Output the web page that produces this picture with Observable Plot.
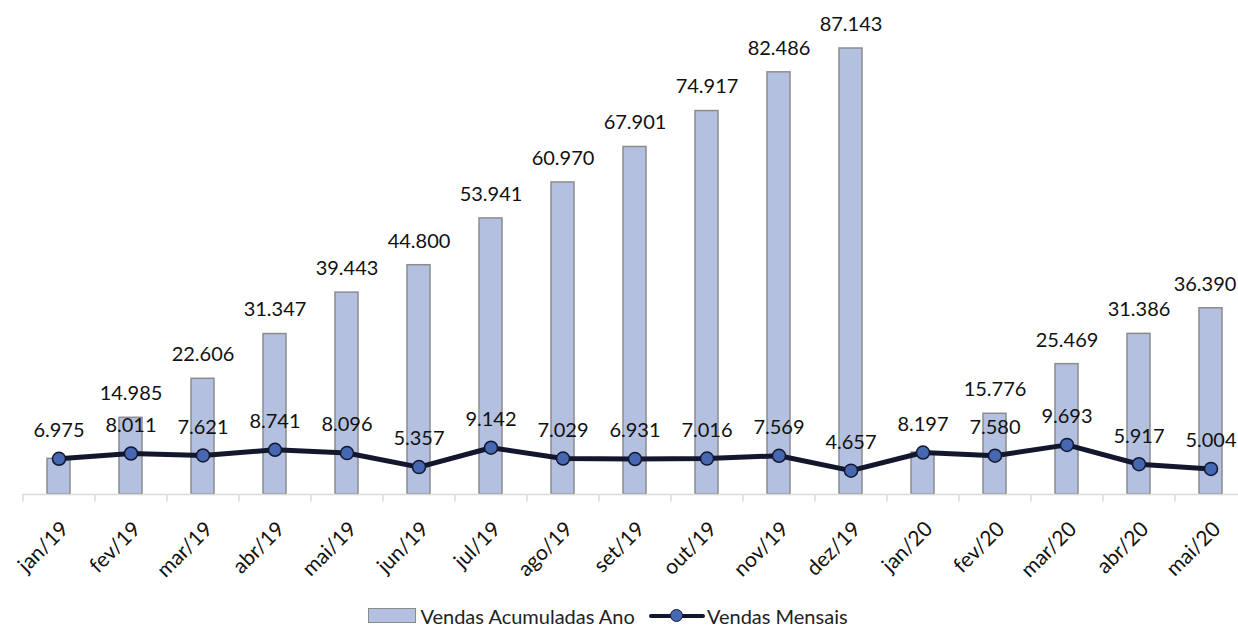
<!DOCTYPE html>
<html>
<head>
<meta charset="utf-8">
<script src="https://cdn.jsdelivr.net/npm/d3@7"></script>
<script src="https://cdn.jsdelivr.net/npm/@observablehq/plot@0.6"></script>
<style>
  body { margin: 0; background: #fff; font-family: Lato, "Open Sans", sans-serif; }
  #chart svg { display: block; }
  .legend { display: flex; justify-content: center; align-items: center; height: 27px; font-size: 20px; color: #222; margin-right: 22px; }
  .sw-bar { width: 46px; height: 13px; background: #b4c0e0; border: 1.5px solid #8c8c8c; margin-right: 4px; }
  .sw-line { position: relative; width: 56px; height: 14px; margin-left: 14px; margin-right: 2px; }
  .sw-line .ln { position: absolute; left: 0; right: 0; top: 5px; height: 4px; background: #12172e; border-radius: 2px; }
  .sw-line .dt { position: absolute; left: 21px; top: 0; width: 11px; height: 11px; border-radius: 50%; background: #4668b3; border: 1.5px solid #12172e; }
</style>
</head>
<body>
<div id="chart"></div>
<div class="legend">
  <div class="sw-bar"></div><span>Vendas Acumuladas Ano</span>
  <div class="sw-line"><div class="ln"></div><div class="dt"></div></div><span>Vendas Mensais</span>
</div>
<script>
const months = ["jan/19","fev/19","mar/19","abr/19","mai/19","jun/19","jul/19","ago/19","set/19","out/19","nov/19","dez/19","jan/20","fev/20","mar/20","abr/20","mai/20"];
const acumuladas = [6975, 14985, 22606, 31347, 39443, 44800, 53941, 60970, 67901, 74917, 82486, 87143, 8197, 15776, 25469, 31386, 36390];
const mensais = [6975, 8011, 7621, 8741, 8096, 5357, 9142, 7029, 6931, 7016, 7569, 4657, 8197, 7580, 9693, 5917, 5004];

const fmt = d3.formatLocale({decimal: ",", thousands: ".", grouping: [3], currency: ["R$", ""]}).format(",d");
const data = months.map((m, i) => ({m, acc: acumuladas[i], mes: mensais[i]}));
const last = data.length - 1;
const barLabels = data.filter((d, i) => d.acc !== d.mes && i !== last);

const W = 1238, H = 602;
const chart = Plot.plot({
  width: W,
  height: H,
  marginLeft: 22,
  marginRight: 0,
  style: {fontFamily: "Lato, 'Open Sans', sans-serif", background: "#fff"},
  x: {domain: months, range: [22, 1247], paddingInner: 0.68, paddingOuter: 0.34, axis: null},
  y: {domain: [0, 87143], range: [494, 48], axis: null},
  marks: [
    Plot.barY(data, {x: "m", y: "acc", fill: "#b4c0e0", stroke: "#8c8c8c", strokeWidth: 1.5}),
    Plot.ruleY([0], {stroke: "#d9d9d9", strokeWidth: 1.5}),
    Plot.ruleX(months, {x: d => d, dx: -36, y1: 0, y2: -1450, stroke: "#d9d9d9", strokeWidth: 1.5}),
    Plot.text(barLabels, {x: "m", y: "acc", text: d => fmt(d.acc), dy: -24, fontSize: 20, fill: "#111"}),
    Plot.text([data[last]], {x: "m", y: "acc", text: d => fmt(d.acc), dy: -24, dx: -6, fontSize: 20, fill: "#111"}),
    Plot.line(data, {x: "m", y: "mes", stroke: "#12172e", strokeWidth: 5}),
    Plot.dot(data, {x: "m", y: "mes", r: 6.5, fill: "#4668b3", stroke: "#12172e", strokeWidth: 1.5}),
    Plot.text(data, {x: "m", y: "mes", text: d => fmt(d.mes), dy: -28, fontSize: 20, fill: "#111"}),
    Plot.text(months, {x: d => d, y: 0, text: d => d, rotate: -45, textAnchor: "end", dx: 6, dy: 31, fontSize: 21, fill: "#111"})
  ]
});
document.getElementById("chart").appendChild(chart);
</script>
</body>
</html>
